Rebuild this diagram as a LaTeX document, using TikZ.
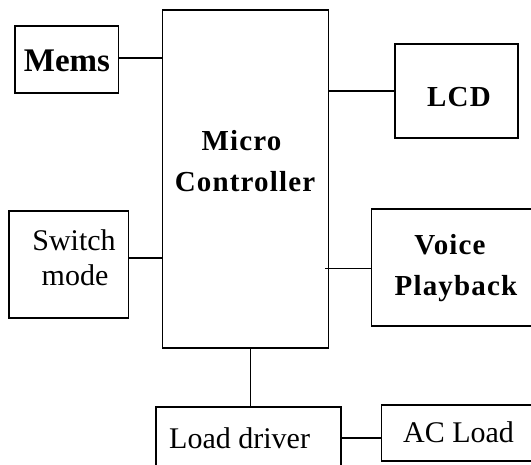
\documentclass[tikz,border=0pt]{standalone}
\usepackage{fontspec}
\setmainfont{Liberation Serif}
\newfontfamily\spaced[LetterSpace=4]{Liberation Serif}
\tikzset{
  x=1pt, y=-1pt,
  blk/.style={draw, line width=1.2pt, inner sep=0pt},
  wire/.style={line width=1.2pt},
  txt/.style={anchor=base, inner sep=0pt, font=\fontsize{30}{34}\selectfont},
  btxt/.style={anchor=base, inner sep=0pt, font=\fontsize{29}{34}\selectfont\spaced\bfseries},
}
\begin{document}
\begin{tikzpicture}
\useasboundingbox (0,0) rectangle (531,464);
\clip (0,0) rectangle (531,464);
% boxes
\node[blk, minimum width=103.5pt, minimum height=67pt] (mems) at (66.75,59.5) {};
\node[blk, minimum width=166pt, minimum height=338pt] (mcu) at (245.5,179) {};
\node[blk, minimum width=123pt, minimum height=94pt] (lcd) at (456.5,91) {};
\node[blk, minimum width=119.5pt, minimum height=107pt] (sw) at (68.75,264.5) {};
\node[blk, minimum width=168.5pt, minimum height=117pt] (voice) at (455.75,267.5) {};
\node[blk, minimum width=185pt, minimum height=68pt] (load) at (248.5,441) {};
\node[blk, minimum width=158.5pt, minimum height=56pt] (ac) at (460.75,433) {};
% texts
\node[anchor=base, inner sep=0pt, font=\fontsize{33}{36}\selectfont\bfseries] (tmems) at (67,71) {Mems};
\node[btxt] (tmicro) at (241.5,150) {Micro};
\node[btxt] (tctrl) at (245,191.7) {Controller};
\node[btxt] (tlcd) at (459,106.7) {LCD};
\node[txt] (tsw) at (74,250) {Switch};
\node[txt] (tmode) at (75,285) {mode};
\node[btxt] (tvoice) at (450,254.5) {Voice};
\node[btxt] (tplay) at (456,295.5) {Playback};
\node[txt] (tload) at (239.6,448.7) {Load driver};
\node[txt] (tac) at (458.5,442) {AC Load};
% connectors
\draw[wire] ([yshift=1.5pt]mems.east) -- ([yshift=1.5pt]mems.east -| mcu.west);
\draw[wire] (lcd.west) -- (lcd.west -| mcu.east);
\draw[wire] ([yshift=6.5pt]sw.east) -- ([yshift=6.5pt]sw.east -| mcu.west);
\draw[wire] ([yshift=-1pt]voice.west) -- ([xshift=-4.5pt,yshift=-1pt]voice.west -| mcu.east);
\draw[wire] ([xshift=2pt]load.north) -- ([xshift=2pt]load.north |- mcu.south);
\draw[wire] ([yshift=3pt]load.east) -- ([yshift=3pt]load.east -| ac.west);
\end{tikzpicture}
\end{document}
